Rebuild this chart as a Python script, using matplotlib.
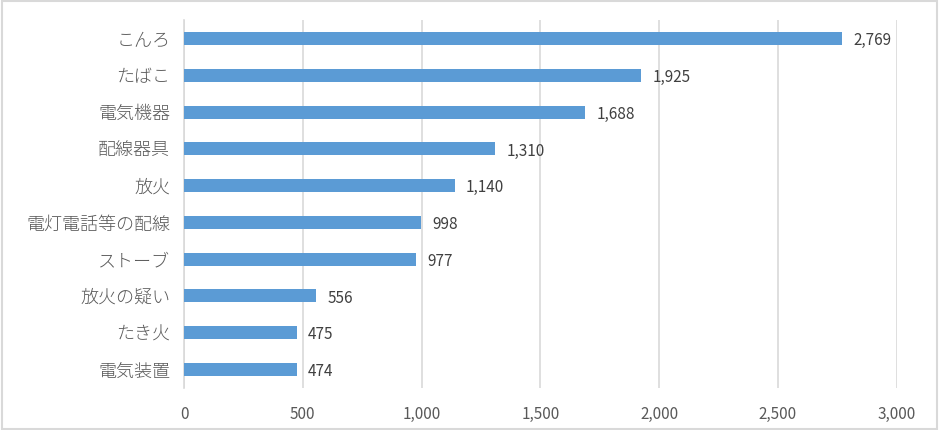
import matplotlib.pyplot as plt
from matplotlib.patches import Rectangle

plt.rcParams['font.family'] = ['Noto Sans CJK JP', 'DejaVu Sans']

# data, top to bottom as shown
categories = ['こんろ', 'たばこ', '電気機器', '配線器具', '放火',
              '電灯電話等の配線', 'ストーブ', '放火の疑い', 'たき火', '電気装置']
values = [2769, 1925, 1688, 1310, 1140, 998, 977, 556, 475, 474]
x_ticks = [0, 500, 1000, 1500, 2000, 2500, 3000]

bar_color = '#5B9BD5'
text_color = '#595959'

fig = plt.figure(figsize=(9.39, 4.30), dpi=100)
ax = fig.add_axes([0.196, 0.098, 0.759, 0.855])

y_pos = list(range(len(categories)))[::-1]
ax.barh(y_pos, values, height=0.355, color=bar_color, zorder=3)

for y, v in zip(y_pos, values):
    ax.annotate('{:,}'.format(v), (v, y), xytext=(8, -1.5), textcoords='offset points',
                va='center', ha='left', fontsize=11, color='#404040')

ax.set_xlim(0, 3000)
ax.set_ylim(-0.5, len(categories) - 0.5)
ax.set_xticks(x_ticks)
ax.set_xticklabels(['{:,}'.format(t) for t in x_ticks])
ax.set_yticks(y_pos)
ax.set_yticklabels(categories, fontweight='light')
ax.tick_params(axis='both', length=0, colors=text_color)
ax.tick_params(axis='x', pad=13, labelsize=11)
ax.tick_params(axis='y', pad=10, labelsize=13)

ax.grid(axis='x', color='#D9D9D9', linewidth=1.2, zorder=0)
for s in ['top', 'right', 'bottom']:
    ax.spines[s].set_visible(False)
ax.spines['left'].set_color('#D9D9D9')
ax.spines['left'].set_linewidth(1.2)

# outer chart border
fig.patches.append(Rectangle((0.002, 0.003), 0.996, 0.994, transform=fig.transFigure,
                             fill=False, edgecolor='#D9D9D9', linewidth=1.5))

fig.savefig('out.png', dpi=100)
